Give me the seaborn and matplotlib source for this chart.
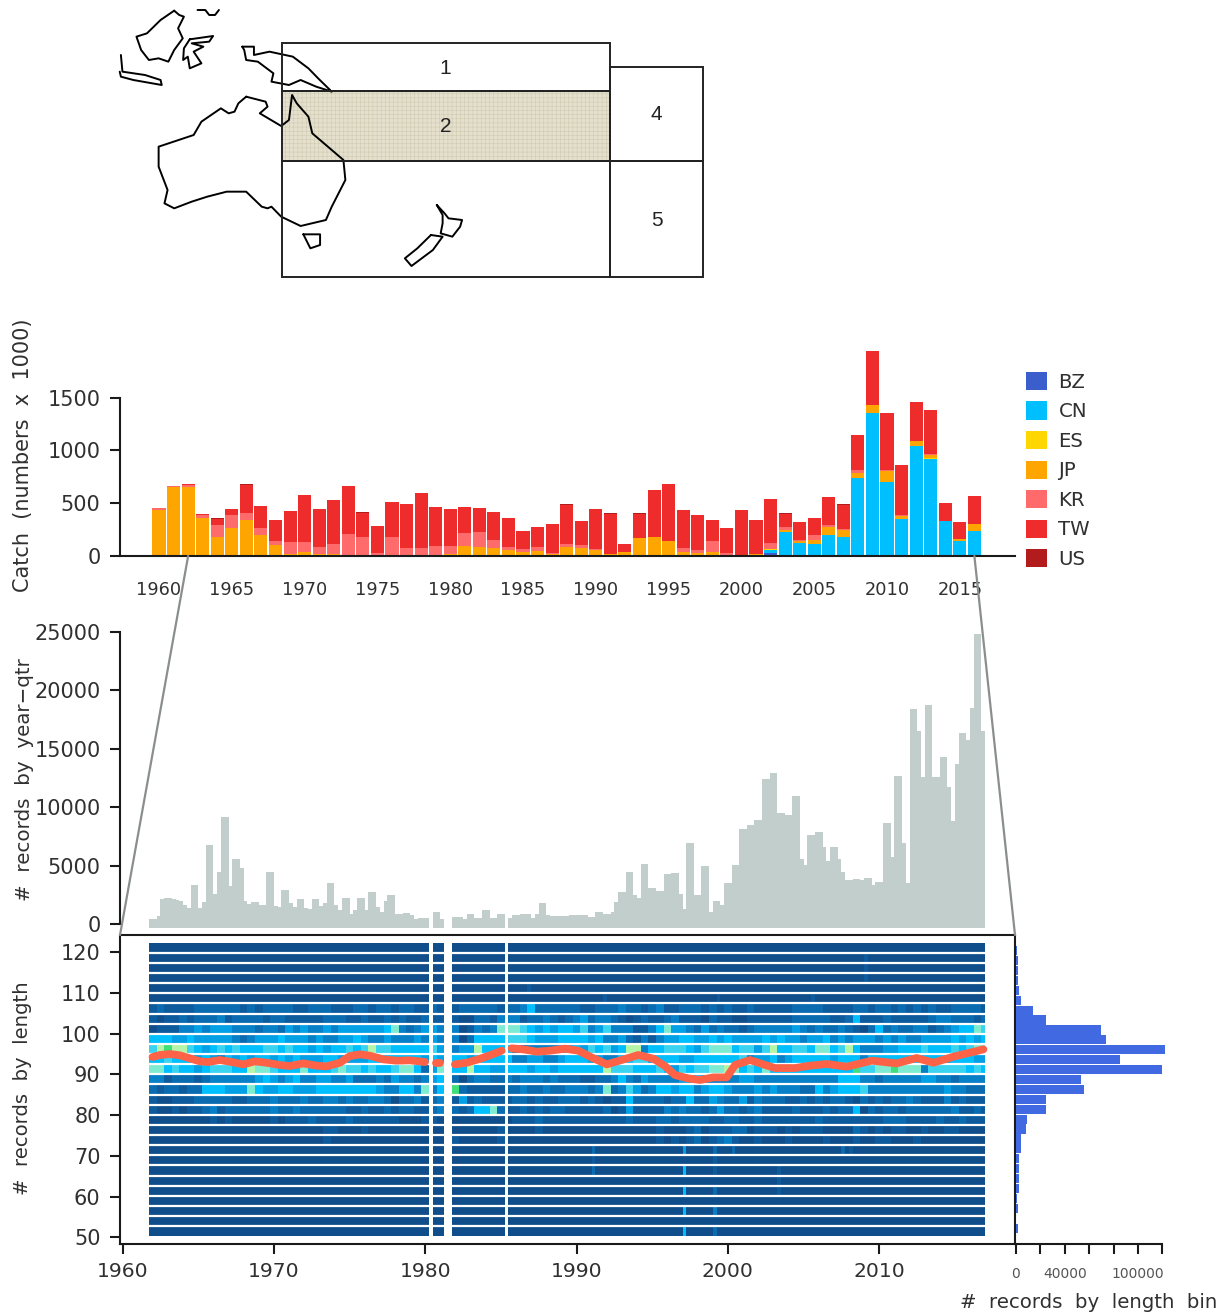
import numpy as np
import pandas as pd
import matplotlib
matplotlib.use("Agg")
import matplotlib.pyplot as plt
from matplotlib.colors import ListedColormap
from matplotlib.patches import Rectangle, Patch, ConnectionPatch
import seaborn as sns

# ------------------------------ data ------------------------------
years = list(range(1960, 2017))
BZ = [0]*42 + [32] + [0]*14
CN = [0]*42 + [25, 230, 126, 110, 195, 180, 734, 1358, 702, 350, 1043, 920, 328, 145, 236]
ES = [0]*42 + [5] + [0]*10 + [5] + [0]*3
JP = [435, 649, 649, 356, 183, 268, 340, 198, 104, 19, 38, 16, 16, 6, 0, 0, 0, 0, 0, 0,
      19, 91, 82, 72, 57, 38, 47, 16, 82, 72, 57, 19, 38, 167, 183, 142, 38, 25, 38, 6,
      0, 16, 6, 16, 19, 41, 76, 69, 47, 69, 104, 31, 50, 34, 3, 16, 63]
KR = [15, 9, 25, 31, 110, 119, 66, 63, 38, 113, 94, 66, 101, 205, 176, 25, 176, 72, 72, 91,
      79, 126, 145, 79, 25, 25, 35, 9, 35, 35, 6, 0, 0, 0, 0, 0, 34, 32, 104, 19,
      6, 0, 54, 25, 6, 51, 25, 3, 32, 6, 6, 3, 0, 6, 0, 0, 3]
TW = [0, 0, 6, 7, 57, 54, 265, 215, 198, 293, 444, 362, 412, 454, 230, 262, 331, 419, 523, 375,
      346, 249, 230, 262, 274, 173, 189, 277, 365, 224, 381, 381, 79, 233, 441, 538, 363, 327, 198, 240,
      429, 324, 418, 129, 170, 154, 258, 233, 330, 504, 542, 479, 365, 413, 167, 160, 262]
US = [0, 0, 5, 0, 5, 5, 6, 0, 0, 0, 6, 0, 5, 0, 6, 0, 0, 0, 0, 0,
      0, 0, 0, 5, 5, 5, 0, 5, 6, 0, 0, 6, 0, 5, 5, 6, 0, 0, 0, 0,
      0, 0, 0, 6, 5, 5, 0, 5, 0, 6, 0, 0, 0, 0, 0, 0, 0]
catch_species = ["BZ", "CN", "ES", "JP", "KR", "TW", "US"]
catch_colors = ["#3A5FCD", "#00BFFF", "#FFD700", "#FFA500", "#FF6A6A", "#EE2C2C", "#B21C1C"]

nan = float("nan")
records_qtr = [
    400, 400, 685, 2110, 2255, 2255, 2110, 2055, 2000, 1625, 1340, 3310, 3310, 1400, 1910, 6790, 6790, 2540, 4480,
    9190, 9190, 3255, 5565, 5565, 4825, 1970, 1710, 1910, 1910, 1625, 1625, 4480, 4480, 1540, 1485, 2910, 2910, 1825,
    1485, 2110, 2110, 1400, 1310, 2110, 2110, 1540, 1770, 3480, 3480, 1625, 1200, 2255, 2255, 855, 1200, 2255, 2255,
    1200, 2710, 2710, 1485, 1055, 2000, 2480, 2480, 855, 855, 970, 970, 770, 455, 485, 485, 485, nan, 1000, 1000, 400,
    nan, nan, 630, 630, 570, 400, 830, 830, 485, 485, 1230, 1230, 540, 540, 830, 830, nan, 540, 770, 740, 830, 830,
    830, 485, 830, 1770, 1770, 770, 655, 715, 715, 715, 655, 770, 770, 770, 770, 770, 630, 630, 1000, 1000, 855, 855,
    1000, 1910, 2710, 2710, 4425, 4425, 2480, 2255, 5110, 5110, 3110, 3110, 2855, 2855, 4250, 4250, 4340, 4340, 2540,
    1310, 6965, 6965, 2480, 2480, 4965, 4965, 1055, 2000, 2000, 1625, 3480, 3480, 5025, 5025, 8105, 8105, 8450, 8450,
    8905, 8905, 12385, 12385, 12930, 12930, 9475, 9475, 9360, 9360, 10990, 10990, 5595, 5025, 7590, 7590, 7905, 7905,
    6565, 5420, 6565, 6565, 5595, 4425, 3765, 3765, 3880, 3880, 3765, 3965, 3965, 3310, 3625, 3625, 8620, 8620, 5710,
    12700, 12700, 6905, 3480, 18380, 18380, 16525, 12560, 18750, 18750, 12560, 12560, 14270, 14270, 11700, 8820,
    13700, 16325, 16325, 15750, 18520, 24800, 24800, 16550]

length_bins = [121.25, 118.75, 116.25, 113.75, 111.25, 108.75, 106.25, 103.75, 101.25, 98.75, 96.25, 93.75, 91.25,
               88.75, 86.25, 83.75, 81.25, 78.75, 76.25, 73.75, 71.25, 68.75, 66.25, 63.75, 61.25, 58.75, 56.25,
               53.75, 51.25]
records_bin = [1000, 1600, 1600, 1600, 2700, 3800, 13900, 25000, 69500, 73900, 121800, 85600, 119600, 53100, 56100,
               25000, 24300, 8700, 7900, 4400, 4400, 2200, 2700, 2200, 2200, 1100, 1400, 300, 1400]

# half-year colour levels of the busy length bins, 0 (few) to 9 (many)
levels_halfyear = {
    6: "1211 1122 2222 1212 2221 1222 1112 2122 1221 1214 1222 2212 2352 2222 2112 2232 2123 1122 2121 2112 1111 1222 2111 1221 2212 1212 1122 221",
    7: "1011 2122 2312 2221 2211 1112 2211 2112 1211 2111 1002 2133 3122 3212 3423 3210 1211 2311 1021 1001 1111 1222 2211 2511 1211 1112 3322 212",
    8: "0111 3343 4443 3323 3243 4334 3444 4445 7323 4433 3013 2377 7654 5455 4634 6333 1135 7443 2423 2212 3333 3432 3223 2102 5232 2331 2345 576",
    9: "5554 4544 4443 2344 4544 4343 3445 4334 3334 3433 3025 5556 6654 4455 5545 3342 1313 4455 4454 5444 4545 4434 4534 3444 3434 3344 4454 545",
    10: "6898 8654 5656 5556 6565 5454 5565 6866 5555 5644 3448 5555 2233 3344 5465 6458 8355 6665 4677 7566 4685 5665 7756 8533 3445 5565 5565 677",
    11: "5565 5545 4354 5455 4545 4445 5444 4555 5555 4544 5545 5555 3344 3345 5544 3355 6645 5544 5555 5563 4453 4555 5545 5535 5555 5555 5455 544",
    12: "7756 5545 6665 5877 6555 7555 6766 5655 6775 2477 5585 5445 5545 5455 5555 8666 5556 5465 6677 8756 5755 5555 5555 5966 7797 7736 6666 565",
    13: "3312 2212 3333 3345 4345 3344 3342 2232 4332 3455 2023 3223 2333 2322 2112 2353 2433 3344 5433 3344 3333 3333 3335 5533 2333 3344 3323 333",
    14: "2122 1225 5544 4754 4554 4455 5555 5543 3553 7355 9211 1112 2322 3223 3323 7236 4235 5455 3455 4333 4343 3322 5345 5563 3333 3333 3433 222",
    15: "1001 1122 2221 1222 3222 3223 3232 2332 0223 1233 1412 1111 2212 1122 2121 0115 2222 1225 2243 2241 3222 1121 2122 1021 2122 3211 1312 111",
    16: "1001 0112 3122 2222 3223 2222 2211 2112 1221 1233 2125 5721 1212 1221 1111 2014 1111 3232 2124 2212 3111 1211 1212 2502 1221 2222 2231 121",
    17: "0000 0000 1010 0000 1011 1211 1121 1111 1000 1100 0000 0000 1112 1111 1111 1112 1112 2122 2211 2211 2111 1111 2111 1111 1222 1111 2112 111",
    18: "0000 0000 0000 0000 0000 0001 1000 1000 0000 0000 0000 0010 0001 0000 0000 0000 0001 0001 2011 1220 1110 1011 1000 0210 1011 0010 0110 000",
    19: "0000 0000 0000 0000 0000 0001 0000 0000 0000 0000 1000 0010 0000 0000 0000 0000 0001 0101 2012 3100 1000 1000 0100 0100 1100 0100 0000 000",
}
# isolated quarter cells in the otherwise uniform bins: (bin index, quarter index, level)
levels_spots = [(1, 189, 1), (2, 189, 1), (3, 189, 1), (4, 100, 1), (5, 120, 1), (5, 150, 1), (5, 175, 1),
                (20, 141, 4), (22, 141, 5), (24, 141, 5), (26, 141, 5), (28, 141, 5),
                (20, 149, 2), (21, 149, 1), (22, 149, 1), (24, 149, 2), (26, 149, 3), (28, 149, 2),
                (20, 117, 2), (21, 117, 1), (22, 117, 2), (20, 154, 2), (20, 183, 2), (20, 185, 1),
                (22, 166, 1), (23, 166, 1), (24, 166, 1)]
level_colors = ["#104E8B", "#0D5A9C", "#0B6BB0", "#0880C8", "#04A0E6", "#00BFFF", "#3AD4F0", "#7FEBD0", "#B5F5A8",
                "#3FE07A"]
missing_quarters = [74, 78, 79, 94]

mean_segments = [
    ([1961.98, 1962.46, 1963.13, 1963.79, 1964.45, 1965.11, 1965.66, 1966.43, 1967.2, 1967.97, 1968.74, 1969.51,
      1970.4, 1971.06, 1971.94, 1972.82, 1973.48, 1974.36, 1975.02, 1975.68, 1976.34, 1977.23, 1978.11, 1979.0, 1979.98],
     [94.28, 94.77, 95.01, 94.69, 93.95, 93.21, 93.05, 93.54, 93.05, 92.47, 93.21, 92.88,
      92.31, 92.07, 92.72, 92.15, 91.98, 92.88, 94.52, 94.93, 94.6, 93.7, 93.38, 93.46, 93.05]),
    ([1980.7, 1981.0], [92.72, 92.72]),
    ([1981.96, 1982.73, 1983.5, 1984.27, 1985.05], [92.47, 92.88, 93.7, 94.69, 95.83]),
    ([1985.71, 1986.48, 1987.36, 1988.24, 1989.23, 1990.11, 1990.99, 1991.99, 1992.98, 1994.08, 1995.07, 1995.84,
      1996.5, 1997.38, 1998.15, 1999.04, 1999.92, 2000.47, 2001.46, 2002.34, 2003.11, 2004.43, 2005.42, 2006.53,
      2007.85, 2009.5, 2011.15, 2012.47, 2013.58, 2014.9, 2016.88],
     [96.41, 96.16, 95.59, 95.83, 96.33, 95.83, 94.19, 92.47, 93.54, 94.77, 93.87, 92.07,
      89.85, 89.03, 88.63, 89.28, 89.28, 92.31, 93.54, 92.47, 91.57, 91.57, 92.15, 92.56,
      91.9, 93.38, 92.72, 94.03, 92.88, 94.36, 96.16]),
]

# map outlines, in the map panel's own units
coast_borneo = [(165, 32), (178, 45), (190, 50), (175, 85), (187, 115), (165, 150), (150, 185), (125, 175), (100, 180),
                (80, 150), (68, 110), (95, 100), (130, 60), (165, 32)]
coast_sulawesi = [(205, 118), (265, 108), (255, 125), (210, 130), (240, 140), (215, 155), (235, 190), (205, 205),
                  (200, 170), (188, 180), (190, 145), (205, 118)]
coast_north = [(225, 30), (245, 30), (255, 45), (270, 45), (280, 30)]
coast_java = [(28, 165), (32, 215), (90, 225), (130, 240), (133, 255), (60, 240), (28, 230), (25, 215)]
coast_guinea = [(340, 140), (370, 140), (370, 165), (410, 155), (470, 170), (510, 205), (535, 235), (570, 275),
                (530, 260), (490, 240), (460, 255), (415, 245), (420, 220), (380, 185), (350, 180), (345, 150), (340, 140)]
coast_australia = [(350, 290), (400, 305), (405, 320), (385, 340), (440, 378), (460, 360), (468, 285), (480, 310),
                   (510, 350), (520, 400), (550, 430), (600, 480), (605, 540), (570, 620), (555, 660), (490, 678),
                   (440, 650), (415, 620), (405, 625), (390, 620), (350, 575), (300, 575), (250, 590), (210, 605),
                   (165, 625), (140, 610), (148, 570), (125, 500), (125, 440), (215, 405), (235, 365), (285, 325),
                   (305, 340), (320, 335), (330, 310), (350, 290)]
coast_tasmania = [(497, 703), (540, 703), (540, 735), (515, 745), (497, 703)]
coast_nz_north = [(840, 615), (860, 640), (870, 655), (905, 660), (900, 680), (880, 710), (850, 700), (855, 670),
                  (855, 645), (840, 615)]
coast_nz_south = [(825, 705), (855, 710), (830, 750), (775, 798), (758, 775), (790, 745), (825, 705)]
coasts = [coast_borneo, coast_sulawesi, coast_north, coast_java, coast_guinea, coast_australia, coast_tasmania,
          coast_nz_north, coast_nz_south]
region_boxes = [("1", 442, 130, 1285, 272), ("2", 442, 272, 1285, 482), ("", 442, 482, 1285, 832),
                ("4", 1285, 202, 1525, 482), ("5", 1285, 482, 1525, 832)]
region_labels = [("1", 862, 205), ("2", 862, 380), ("4", 1405, 345), ("5", 1405, 660)]

# ------------------------------ layout helpers ------------------------------
W, H = 1229, 1315
sns.set_theme(style="white")
plt.rcParams["font.family"] = ["DejaVu Sans"]
plt.rcParams["hatch.linewidth"] = 0.4
INK = "#1a1a1a"
TXT = "#303030"
LW = 1.5
fig = plt.figure(figsize=(W / 100, H / 100), dpi=100, facecolor="white")


def px_axes(l, t, r, b):
    return fig.add_axes([l / W, 1 - b / H, (r - l) / W, (b - t) / H])


def style(ax):
    for s in ax.spines.values():
        s.set_linewidth(LW)
        s.set_color(INK)
    ax.set_xlabel("")
    ax.set_ylabel("")
    ax.tick_params(axis="both", which="both", length=7, width=LW, color=INK, labelcolor=TXT)


# ------------------------------ map ------------------------------
ax_map = px_axes(110, 0, 720, 290)
ax_map.set_xlim(0, 1568)
ax_map.set_ylim(870, 0)
ax_map.axis("off")
for name, x0, y0, x1, y1 in region_boxes:
    if name == "2":
        ax_map.add_patch(Rectangle((x0, y0), x1 - x0, y1 - y0, facecolor="#E4E0CD", edgecolor="#CFCAB0",
                                   hatch="++++", linewidth=0, zorder=1))
for c in coasts:
    xs, ys = zip(*c)
    ax_map.plot(xs, ys, color="black", lw=1.4, zorder=3, solid_joinstyle="round")
for name, x0, y0, x1, y1 in region_boxes:
    ax_map.add_patch(Rectangle((x0, y0), x1 - x0, y1 - y0, facecolor="none", edgecolor="#222222", linewidth=1.4, zorder=4))
for name, x, y in region_labels:
    ax_map.text(x, y, name, ha="center", va="center", fontsize=15, color="#222222", family="Liberation Sans")

# ------------------------------ catch ------------------------------
ax_catch = px_axes(120, 345, 1015, 556)
stack = np.zeros(len(years))
for sp, col, vals in zip(catch_species, catch_colors, [BZ, CN, ES, JP, KR, TW, US]):
    vals = np.array(vals, dtype=float)
    sns.barplot(x=years, y=vals, bottom=stack, color=col, saturation=1, width=0.9, native_scale=True,
                linewidth=0, ax=ax_catch)
    stack = stack + vals
style(ax_catch)
ax_catch.set_xlim(1957.32, 2018.79)
ax_catch.set_ylim(0, 1997)
ax_catch.set_yticks([0, 500, 1000, 1500])
ax_catch.tick_params(axis="y", left=True, labelsize=15, pad=7)
ax_catch.set_xticks(list(range(1960, 2016, 5)))
ax_catch.tick_params(axis="x", bottom=False, labelsize=12.8, pad=11)
ax_catch.spines["left"].set_bounds(0, 1500)
ax_catch.spines["top"].set_visible(False)
ax_catch.spines["right"].set_visible(False)
ax_catch.patch.set_alpha(0)
handles = [Patch(facecolor=c, edgecolor="none", label=s) for s, c in zip(catch_species, catch_colors)]
fig.legend(handles=handles, loc="upper left", bbox_to_anchor=(1018 / W, 1 - 364 / H), frameon=False, fontsize=14.2,
           handlelength=1.05, handleheight=1.05, handletextpad=0.6, labelspacing=0.49, borderpad=0.4, borderaxespad=0,
           labelcolor=TXT)

# ------------------------------ records by year-quarter ------------------------------
X0, X1 = 1959.83, 2018.97
FLOOR = -300.0
quarters = [1961.75 + i / 4 + 0.125 for i in range(len(records_qtr))]
ax_rec = px_axes(120, 625, 1015, 927.5)
heights = np.array(records_qtr) - FLOOR
sns.barplot(x=quarters, y=heights, bottom=FLOOR, color="#C2CECC", saturation=1, width=1.0, native_scale=True,
            linewidth=0, ax=ax_rec)
style(ax_rec)
ax_rec.set_xlim(X0, X1)
ax_rec.set_ylim(FLOOR, 25600)
ax_rec.set_yticks(list(range(0, 25001, 5000)))
ax_rec.tick_params(axis="y", left=True, labelsize=15, pad=7)
ax_rec.tick_params(axis="x", bottom=False, labelbottom=False)
ax_rec.spines["left"].set_bounds(0, 25000)
for s in ("top", "right", "bottom"):
    ax_rec.spines[s].set_visible(False)
ax_rec.patch.set_alpha(0)

# ------------------------------ heat map ------------------------------
n_q = len(records_qtr)
grid = np.zeros((len(length_bins), n_q))
for r, s in levels_halfyear.items():
    digits = [int(ch) for ch in s.replace(" ", "")]
    grid[r] = np.repeat(digits, 2)[:n_q]
for r, q, lev in levels_spots:
    grid[r, q] = lev
grid[:, missing_quarters] = np.nan

ax_len = px_axes(120, 935, 1015, 1244)
ax_len.set_xlim(X0, X1)
ax_len.set_ylim(48.35, 124.25)
ax_len.set_xticks(list(range(1960, 2011, 10)))
ax_len.set_yticks(list(range(50, 121, 10)))
style(ax_len)
ax_len.tick_params(axis="x", bottom=True, labelsize=14.6, pad=6)
ax_len.tick_params(axis="y", left=True, labelsize=15, pad=7)
for s in ax_len.spines.values():
    s.set_zorder(20)
ax_heat = ax_len.inset_axes([1961.75, 50.25, 2017.0 - 1961.75, 122.36 - 50.25], transform=ax_len.transData)
sns.heatmap(pd.DataFrame(grid, index=length_bins), cmap=ListedColormap(level_colors), vmin=-0.5, vmax=9.5, cbar=False,
            xticklabels=False, yticklabels=False, ax=ax_heat)
ax_heat.hlines(np.arange(1, len(length_bins)), 0, n_q, color="white", lw=1.6)
ax_heat.set_xlabel("")
ax_heat.set_ylabel("")
ax_heat.axis("off")
for xs, ys in mean_segments:
    sns.lineplot(x=xs, y=ys, color="#FF6347", lw=5.6, sort=False, estimator=None, solid_capstyle="round",
                 solid_joinstyle="round", ax=ax_len, zorder=10)
ax_len.set_xlabel("")
ax_len.set_ylabel("")

# ------------------------------ records by length bin ------------------------------
ax_hist = px_axes(1015, 935, 1170, 1244)
sns.barplot(x=records_bin, y=list(range(len(records_bin))), orient="y", native_scale=True, color="#4169E1", saturation=1,
            width=0.93, linewidth=0, ax=ax_hist)
style(ax_hist)
ax_hist.set_xlim(-820, 126300)
ax_hist.set_ylim(29.6, -1.58)
ax_hist.set_yticks([])
ax_hist.set_xticks(list(range(0, 120001, 20000)))
ax_hist.set_xticklabels(["0", "", "40000", "", "", "100000", ""])
ax_hist.tick_params(axis="x", bottom=True, labelsize=10, pad=9.5, labelcolor="#555555")
ax_hist.spines["bottom"].set_bounds(-820, 120000)
for s in ("top", "right", "left"):
    ax_hist.spines[s].set_visible(False)
ax_hist.patch.set_alpha(0)

# ------------------------------ titles and connectors ------------------------------
lab = dict(color=TXT, ha="center", va="center")
fig.text(23 / W, 1 - 455 / H, "Catch  (numbers  x  1000)", rotation=90, fontsize=15, **lab)
fig.text(25 / W, 1 - 780 / H, "#  records  by  year\u2212qtr", rotation=90, fontsize=14.3, **lab)
fig.text(23 / W, 1 - 1088 / H, "#  records  by  length", rotation=90, fontsize=14.1, **lab)
fig.text(1089 / W, 1 - 1303 / H, "#  records  by  length  bin", fontsize=14.2, **lab)

for year, corner in ((1962, 0.0), (2016, 1.0)):
    fig.add_artist(ConnectionPatch(xyA=(year, 0), coordsA=ax_catch.transData, xyB=(corner, 1.0),
                                   coordsB=ax_len.transAxes, color="#8A8F8E", lw=1.6, clip_on=False))

fig.savefig("out.png", dpi=100, facecolor="white")
